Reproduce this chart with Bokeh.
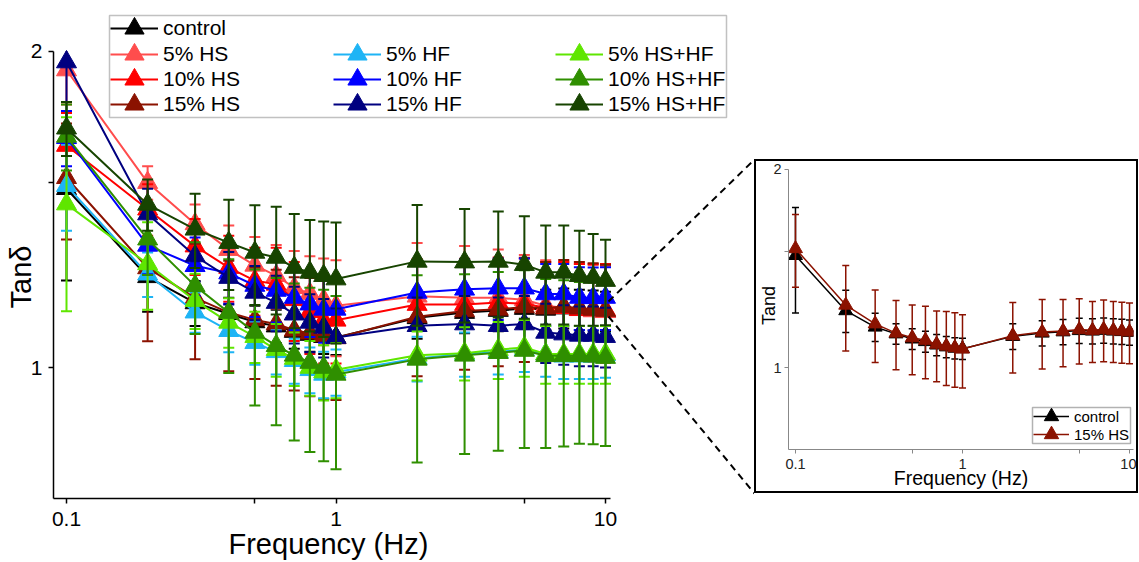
from bokeh.plotting import figure
from bokeh.layouts import row
from bokeh.models import (ColumnDataSource, FixedTicker, CustomJSTickFormatter,
                          Legend, LegendItem, BoxAnnotation, Range1d, Title)
from bokeh.embed import file_html
from bokeh.resources import INLINE

# ---------------- data ----------------
freq = [0.1, 0.2, 0.3, 0.4, 0.5, 0.6, 0.7, 0.8, 0.9, 1, 2, 3, 4, 5, 6, 7, 8, 9, 10]

control = [1.48, 1.22, 1.152, 1.125, 1.105, 1.095, 1.082, 1.075, 1.07, 1.068, 1.115, 1.128, 1.133, 1.138, 1.136, 1.139, 1.136, 1.134, 1.131]
control_err = [0.27, 0.09, 0.057, 0.04, 0.04, 0.04, 0.04, 0.04, 0.04, 0.04, 0.05, 0.05, 0.05, 0.05, 0.05, 0.05, 0.05, 0.05, 0.05]

hs5 = [1.92, 1.50, 1.37, 1.295, 1.251, 1.223, 1.191, 1.176, 1.16, 1.145, 1.169, 1.165, 1.165, 1.16, 1.145, 1.14, 1.135, 1.132, 1.13]
hs5_err = [0.14, 0.055, 0.06, 0.07, 0.08, 0.085, 0.1, 0.1, 0.11, 0.12, 0.145, 0.14, 0.13, 0.12, 0.12, 0.12, 0.12, 0.12, 0.12]

hs10 = [1.627, 1.415, 1.305, 1.245, 1.21, 1.2, 1.16, 1.13, 1.109, 1.109, 1.148, 1.148, 1.153, 1.15, 1.14, 1.14, 1.135, 1.135, 1.135]
hs10_err = [0.12, 0.08, 0.08, 0.09, 0.09, 0.1, 0.1, 0.1, 0.1, 0.1, 0.12, 0.12, 0.12, 0.12, 0.12, 0.12, 0.12, 0.12, 0.12]

hs15 = [1.516, 1.244, 1.165, 1.128, 1.110, 1.100, 1.085, 1.078, 1.072, 1.067, 1.118, 1.132, 1.136, 1.142, 1.139, 1.143, 1.139, 1.136, 1.133]
hs15_err = [0.192, 0.185, 0.147, 0.136, 0.135, 0.139, 0.134, 0.139, 0.139, 0.136, 0.137, 0.137, 0.133, 0.13, 0.121, 0.123, 0.121, 0.121, 0.12]

hf5 = [1.49, 1.227, 1.129, 1.084, 1.056, 1.035, 1.015, 0.995, 0.985, 0.99, 1.02, 1.03, 1.035, 1.04, 1.03, 1.025, 1.025, 1.025, 1.028]
hf5_err = [0.14, 0.06, 0.05, 0.05, 0.05, 0.05, 0.05, 0.05, 0.05, 0.05, 0.05, 0.05, 0.05, 0.05, 0.05, 0.05, 0.05, 0.05, 0.05]

hf10 = [1.655, 1.307, 1.25, 1.23, 1.197, 1.184, 1.166, 1.149, 1.136, 1.136, 1.179, 1.187, 1.19, 1.19, 1.175, 1.175, 1.166, 1.165, 1.166]
hf10_err = [0.1, 0.08, 0.08, 0.08, 0.08, 0.08, 0.08, 0.08, 0.08, 0.08, 0.08, 0.08, 0.08, 0.08, 0.08, 0.08, 0.08, 0.08, 0.08]

hf15 = [1.954, 1.40, 1.277, 1.218, 1.179, 1.153, 1.124, 1.104, 1.092, 1.068, 1.096, 1.10, 1.096, 1.10, 1.08, 1.076, 1.073, 1.073, 1.07]
hf15_err = [0.3, 0.08, 0.07, 0.07, 0.07, 0.07, 0.07, 0.07, 0.07, 0.07, 0.07, 0.07, 0.07, 0.07, 0.07, 0.07, 0.07, 0.07, 0.07]

mix5 = [1.431, 1.255, 1.158, 1.104, 1.07, 1.04, 1.02, 1.0, 0.99, 0.995, 1.027, 1.032, 1.04, 1.045, 1.03, 1.03, 1.03, 1.03, 1.03]
mix5_err = [0.30, 0.12, 0.07, 0.06, 0.06, 0.06, 0.06, 0.06, 0.06, 0.06, 0.055, 0.06, 0.065, 0.065, 0.065, 0.065, 0.065, 0.065, 0.065]

mix10 = [1.66, 1.325, 1.196, 1.128, 1.08, 1.049, 1.027, 1.011, 1.0, 0.985, 1.018, 1.027, 1.033, 1.038, 1.026, 1.026, 1.026, 1.025, 1.022]
mix10_err = [0.12, 0.1, 0.12, 0.14, 0.16, 0.168, 0.175, 0.18, 0.186, 0.185, 0.206, 0.2, 0.2, 0.2, 0.188, 0.185, 0.18, 0.18, 0.18]

mix15 = [1.69, 1.43, 1.354, 1.315, 1.287, 1.273, 1.245, 1.232, 1.223, 1.214, 1.262, 1.26, 1.262, 1.253, 1.232, 1.232, 1.223, 1.218, 1.21]
mix15_err = [0.1, 0.08, 0.11, 0.13, 0.14, 0.15, 0.155, 0.15, 0.154, 0.16, 0.166, 0.156, 0.146, 0.14, 0.133, 0.133, 0.127, 0.122, 0.113]

names = ["control", "5% HS", "10% HS", "15% HS", "5% HF", "10% HF", "15% HF",
         "5% HS+HF", "10% HS+HF", "15% HS+HF"]
colors = ["#000000", "#FF4D4D", "#FF0000", "#8B1200", "#1EB4F5", "#0000FF", "#000080",
          "#5FE600", "#2F8F00", "#174400"]
values = [control, hs5, hs10, hs15, hf5, hf10, hf15, mix5, mix10, mix15]
errors = [control_err, hs5_err, hs10_err, hs15_err, hf5_err, hf10_err, hf15_err,
          mix5_err, mix10_err, mix15_err]

x_ticks = [0.1, 1, 10]
x_minor = [0.5, 5]
y_ticks = [1, 2]
y_minor = [1.5]
Y_MIN, Y_MAX = 0.75, 2.0
x_title = "Frequency (Hz)"
y_title_main = "Tanδ"
y_title_inset = "Tand"

FONT = "Liberation Sans"

# ---------------- geometry helpers (page pixels -> data) ----------------
def mx(px):
    return 10 ** (-1 + (px - 66) / 269.5)

def my(py):
    return 10 ** ((367 - py) / 1050)

def ix(px):
    return 10 ** (-1 + (px - 794) / 167.5)

def iy(py):
    return 10 ** ((367 - py) / 658)

fmt = CustomJSTickFormatter(code="return String(tick)")


def style_axes(fig, tick_size, label_size, axis_color, tick_label_color, lw, tick_len):
    for ax in (fig.xaxis[0], fig.yaxis[0]):
        ax.axis_line_color = axis_color
        ax.axis_line_width = lw
        ax.major_tick_line_color = axis_color
        ax.minor_tick_line_color = axis_color
        ax.major_tick_line_width = lw
        ax.minor_tick_line_width = lw
        ax.major_tick_out = tick_len
        ax.major_tick_in = 0
        ax.minor_tick_out = tick_len
        ax.minor_tick_in = 0
        ax.major_label_text_font = FONT
        ax.major_label_text_font_size = tick_size
        ax.major_label_text_color = tick_label_color
        ax.axis_label_text_font = FONT
        ax.axis_label_text_font_size = label_size
        ax.axis_label_text_font_style = "normal"
        ax.axis_label_text_color = "black"
        ax.formatter = fmt
    fig.xaxis[0].ticker = FixedTicker(ticks=x_ticks, minor_ticks=x_minor)
    fig.yaxis[0].ticker = FixedTicker(ticks=y_ticks, minor_ticks=y_minor)


def draw_series(fig, vals, errs, color, lw, cap, msize):
    lo = [v - e for v, e in zip(vals, errs)]
    hi = [min(v + e, Y_MAX) for v, e in zip(vals, errs)]
    src = ColumnDataSource(dict(x=freq, y=vals, lo=lo, hi=hi))
    cap_hi = ColumnDataSource(dict(x=[f for f, v, e in zip(freq, vals, errs) if v + e <= Y_MAX],
                                   y=[v + e for v, e in zip(vals, errs) if v + e <= Y_MAX]))
    r_line = fig.line("x", "y", source=src, line_color=color, line_width=lw)
    fig.segment("x", "lo", "x", "hi", source=src, line_color=color, line_width=lw)
    fig.scatter("x", "lo", source=src, marker="dash", size=cap, line_color=color, line_width=lw)
    fig.scatter("x", "y", source=cap_hi, marker="dash", size=cap, line_color=color, line_width=lw)
    r_pts = fig.scatter("x", "y", source=src, marker="triangle", size=msize,
                        fill_color=color, line_color=color)
    return r_line, r_pts


def item_legend(fig, label, rends, vx, vy, gsize, font_size):
    lg = Legend(items=[LegendItem(label=label, renderers=list(rends))],
                location=(vx, vy), orientation="vertical",
                glyph_width=gsize, glyph_height=gsize, label_height=gsize,
                padding=0, margin=0, spacing=0, label_standoff=5,
                label_text_font=FONT, label_text_font_size=font_size,
                label_text_color="black",
                border_line_color=None, background_fill_alpha=0)
    fig.add_layout(lg, "center")


# ---------------- main panel (page px: frame 53..754 x 0..498) ----------------
M_LEFT, M_RIGHT, M_TOP, M_BOTTOM = 53, 754, 0, 498
p = figure(width=754, height=562, x_axis_type="log", y_axis_type="log",
           x_range=Range1d(mx(M_LEFT), mx(M_RIGHT)), y_range=Range1d(my(M_BOTTOM), my(M_TOP)),
           output_backend="svg", toolbar_location=None,
           min_border_left=53, min_border_right=0, min_border_top=0, min_border_bottom=64)
p.outline_line_color = None
p.grid.visible = False
style_axes(p, "21px", "29px", "black", "black", 1.5, 5)
p.xaxis.bounds = (mx(M_LEFT), 10.45)
p.yaxis.bounds = (Y_MIN, Y_MAX)
p.xaxis.major_label_standoff = 8
p.yaxis.major_label_standoff = 6

# axis titles placed under / beside the drawn axes (the frame runs on to the inset)
p.add_layout(Title(text=x_title, align="left", offset=228 - M_LEFT, standoff=-6,
                   vertical_align="bottom", text_font=FONT, text_font_size="29px",
                   text_font_style="normal", text_color="black"), "below")
p.add_layout(Title(text=y_title_main, align="left", offset=M_BOTTOM - 308, standoff=-18,
                   vertical_align="bottom", text_font=FONT, text_font_size="29px",
                   text_font_style="normal", text_color="black"), "left")

renderers = []
for vals, errs, col in zip(values, errors, colors):
    renderers.append(draw_series(p, vals, errs, col, 2, 11, 20))

# connector lines to the inset
p.line([mx(608), mx(754)], [my(301), my(159)], line_color="black", line_width=2, line_dash="7 5")
p.line([mx(608), mx(754)], [my(316), my(493)], line_color="black", line_width=2, line_dash="7 5")

# legend frame + entries
p.add_layout(BoxAnnotation(left=109, right=726, top=15, bottom=117,
                           left_units="canvas", right_units="canvas",
                           top_units="canvas", bottom_units="canvas",
                           fill_color="white", fill_alpha=1,
                           line_color="#333333", line_width=1.5))
row_c = [28, 53.5, 79, 104.5]
col_x = [110, 333, 555]
slots = [(0, 0), (1, 0), (2, 0), (3, 0), (1, 1), (2, 1), (3, 1), (1, 2), (2, 2), (3, 2)]
for i, (r, c) in enumerate(slots):
    item_legend(p, names[i], renderers[i], col_x[c] - M_LEFT,
                round(M_BOTTOM - (row_c[r] + 24)), 48, "21px")

# ---------------- inset (element at page 756,161 size 380x330) ----------------
I_X0, I_Y0 = 756, 161
I_LEFT, I_RIGHT, I_TOP, I_BOTTOM = 787, 1133, 161, 449
q = figure(width=380, height=330, x_axis_type="log", y_axis_type="log",
           x_range=Range1d(ix(I_LEFT), ix(I_RIGHT)), y_range=Range1d(iy(I_BOTTOM), iy(I_TOP)),
           output_backend="svg", toolbar_location=None,
           min_border_left=I_LEFT - I_X0, min_border_right=I_X0 + 380 - I_RIGHT,
           min_border_top=0, min_border_bottom=I_Y0 + 330 - I_BOTTOM,
           margin=(I_Y0, 0, 0, 2), styles={"outline": "2px solid black"})
for fig in (p, q):
    if "frame_align" in fig.properties():
        fig.frame_align = False
q.outline_line_color = None
q.grid.visible = False
q.xaxis.axis_label = x_title
q.yaxis.axis_label = y_title_inset
style_axes(q, "14.5px", "19.5px", "#888888", "#222222", 1, 4)
q.yaxis.axis_label_text_font_size = "18px"
q.xaxis.bounds = (ix(I_LEFT), ix(I_RIGHT))
q.yaxis.bounds = (Y_MIN, Y_MAX)
q.xaxis.major_label_standoff = 5
q.xaxis.axis_label_standoff = -5
q.yaxis.major_label_standoff = 3
q.yaxis.axis_label_standoff = -9

ins = []
for i in (0, 3):
    ins.append((i, draw_series(q, values[i], errors[i], colors[i], 1.5, 7, 14)))

q.add_layout(BoxAnnotation(left=1032 - I_X0, right=1130 - I_X0, top=407 - I_Y0, bottom=443 - I_Y0,
                           left_units="canvas", right_units="canvas",
                           top_units="canvas", bottom_units="canvas",
                           fill_color="white", fill_alpha=1, line_color="black", line_width=1.5))
for k, (i, r) in enumerate(ins):
    item_legend(q, names[i], r, 1032 - I_LEFT, round(I_BOTTOM - ([416, 434][k] + 18)), 36, "15px")

layout = row(p, q)
open("out.html", "w").write(file_html(layout, INLINE))
